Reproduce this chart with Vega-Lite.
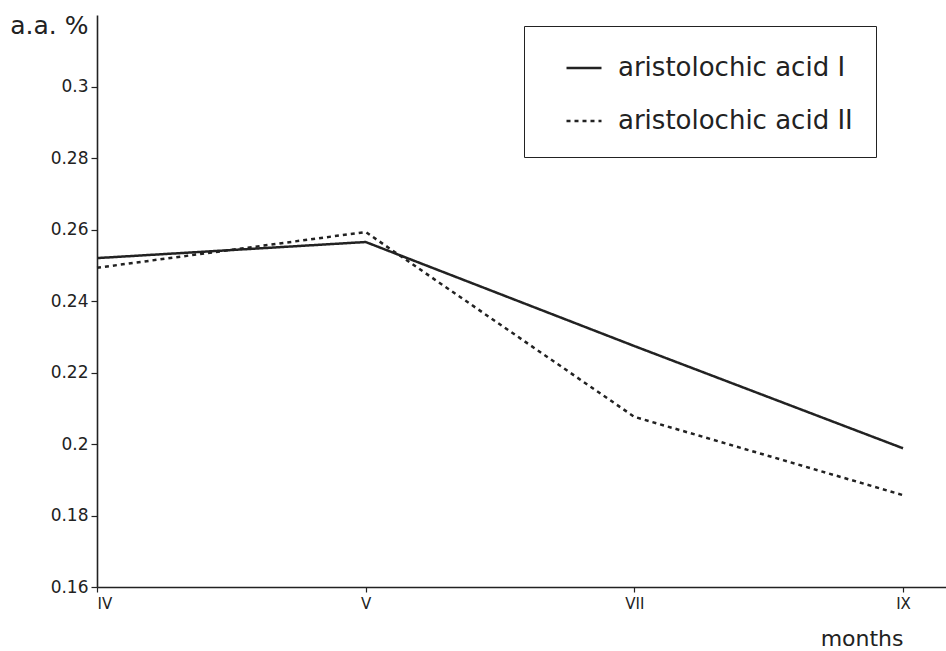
{
  "$schema": "https://vega.github.io/schema/vega-lite/v6.json",
  "autosize": {"type": "none"},
  "padding": {"left": 97, "top": 15, "right": 0, "bottom": 64},
  "width": 849,
  "height": 572,
  "background": "white",
  "config": {
    "view": {"stroke": null},
    "font": "DejaVu Sans",
    "axis": {"grid": false, "domainColor": "#222", "tickColor": "#222", "labelColor": "#222", "titleColor": "#222", "labelFont": "DejaVu Sans", "titleFont": "DejaVu Sans", "titleFontWeight": "normal", "domainWidth": 1.6, "tickWidth": 1.2}
  },
  "data": {
    "values": [
      {"pos": 0, "month": "IV", "series": "aristolochic acid I", "value": 0.252},
      {"pos": 1, "month": "V", "series": "aristolochic acid I", "value": 0.2565},
      {"pos": 2, "month": "VII", "series": "aristolochic acid I", "value": 0.2274},
      {"pos": 3, "month": "IX", "series": "aristolochic acid I", "value": 0.1988},
      {"pos": 0, "month": "IV", "series": "aristolochic acid II", "value": 0.2493},
      {"pos": 1, "month": "V", "series": "aristolochic acid II", "value": 0.2593},
      {"pos": 2, "month": "VII", "series": "aristolochic acid II", "value": 0.2076},
      {"pos": 3, "month": "IX", "series": "aristolochic acid II", "value": 0.1857}
    ]
  },
  "mark": {"type": "line", "color": "#222", "strokeWidth": 2.5},
  "encoding": {
    "x": {
      "field": "pos", "type": "quantitative",
      "scale": {"domain": [0, 3.16], "nice": false, "zero": false},
      "axis": {
        "values": [0, 1, 2, 3],
        "labelExpr": "['IV','V','VII','IX'][datum.value]",
        "labelFontSize": 15, "labelPadding": 4, "tickSize": 5,
        "title": "months", "titleFontSize": 22,
        "titleX": 806, "titleY": 58, "titleAlign": "right", "titleBaseline": "alphabetic"
      }
    },
    "y": {
      "field": "value", "type": "quantitative",
      "scale": {"domain": [0.16, 0.32], "nice": false, "zero": false},
      "axis": {
        "values": [0.16, 0.18, 0.2, 0.22, 0.24, 0.26, 0.28, 0.3],
        "format": ".2~f",
        "labelFontSize": 17, "labelPadding": 3, "tickSize": 6,
        "title": "a.a. %", "titleFontSize": 25, "titleAngle": 0,
        "titleX": -9, "titleY": 18, "titleAlign": "right", "titleBaseline": "alphabetic"
      }
    },
    "strokeDash": {
      "field": "series", "type": "nominal",
      "scale": {"domain": ["aristolochic acid I", "aristolochic acid II"], "range": [[1, 0], [4, 4]]},
      "legend": {
        "title": null, "orient": "none", "legendX": 427, "legendY": 11,
        "strokeColor": "#222", "padding": 23,
        "symbolType": "stroke", "symbolSize": 1225, "symbolStrokeWidth": 2.5, "symbolStrokeColor": "#222",
        "symbolOffset": 18,
        "labelFontSize": 26, "labelColor": "#222", "labelOffset": 15, "labelLimit": 400,
        "rowPadding": 21
      }
    }
  }
}
